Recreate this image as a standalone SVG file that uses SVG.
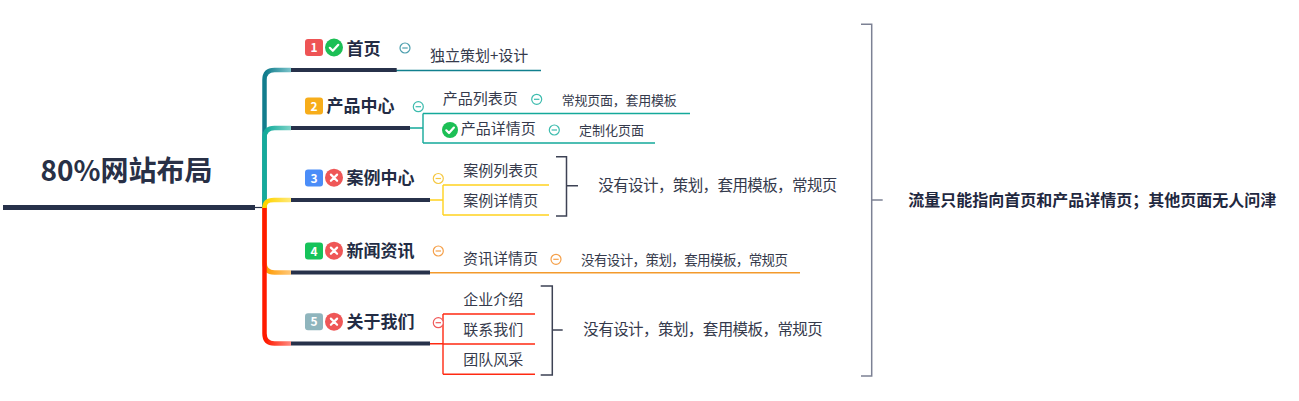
<svg xmlns="http://www.w3.org/2000/svg" width="1299" height="401" viewBox="0 0 1299 401">
<style>
text{font-family:"Noto Sans CJK SC","Noto Sans",sans-serif;}
.root{font-size:28px;font-weight:bold;fill:#283046;}
.main{font-size:17px;font-weight:bold;fill:#232c44;}
.sub{font-size:15px;fill:#353a4c;}
.leaf{font-size:13px;fill:#353a4c;}
.sum{font-size:15.5px;fill:#353a4c;}
.big{font-size:16px;font-weight:bold;fill:#1f2840;}
.num{font-size:12px;font-weight:bold;fill:#ffffff;text-anchor:middle;}
.ul{stroke:#27314a;stroke-width:4;fill:none;}
.thin{stroke-width:1.4;fill:none;}
.spine{stroke-width:4.5;fill:none;}
.brk{stroke:#3d4254;stroke-width:1.5;fill:none;}
.bigbrk{stroke:#7c8194;stroke-width:1.5;fill:none;}
.col{fill:#ffffff;stroke-width:1.2;}
.icw{stroke:#ffffff;stroke-width:2.2;fill:none;stroke-linecap:round;stroke-linejoin:round;}
</style>
<defs>
<linearGradient id="g1" gradientUnits="userSpaceOnUse" x1="266" y1="0" x2="291" y2="0"><stop offset="0" stop-color="#127d8d"/><stop offset="1" stop-color="#7cc4cb"/></linearGradient>
<linearGradient id="g2" gradientUnits="userSpaceOnUse" x1="266" y1="0" x2="291" y2="0"><stop offset="0" stop-color="#14ab9b"/><stop offset="1" stop-color="#7dd3c8"/></linearGradient>
<linearGradient id="g3" gradientUnits="userSpaceOnUse" x1="266" y1="0" x2="291" y2="0"><stop offset="0" stop-color="#ffd400"/><stop offset="1" stop-color="#ffe97a"/></linearGradient>
<linearGradient id="g4" gradientUnits="userSpaceOnUse" x1="266" y1="0" x2="291" y2="0"><stop offset="0" stop-color="#ff9a00"/><stop offset="1" stop-color="#ffc87a"/></linearGradient>
<linearGradient id="g5" gradientUnits="userSpaceOnUse" x1="266" y1="0" x2="291" y2="0"><stop offset="0" stop-color="#ff1a00"/><stop offset="1" stop-color="#ff8a80"/></linearGradient>
</defs>
<rect width="1299" height="401" fill="#ffffff"/>

<g id="connectors">
<line x1="255" y1="207.5" x2="264" y2="207.5" stroke="#27314a" stroke-width="1.2"/>
<path class="spine" stroke="url(#g1)" d="M264.5,207 V80 Q264.5,70 274.5,70 H291"/>
<path class="spine" stroke="url(#g2)" d="M264.5,207 V138 Q264.5,128 274.5,128 H291"/>
<path class="spine" stroke="url(#g4)" d="M264.5,207 V262.5 Q264.5,272.5 274.5,272.5 H291"/>
<path class="spine" stroke="url(#g5)" d="M264.5,207 V333.5 Q264.5,343.5 274.5,343.5 H291"/>
<path class="spine" stroke="url(#g3)" d="M264.5,208 C264.5,202 267,200 274,200 H291"/>
<line class="thin" stroke="#11808e" x1="396" y1="70.5" x2="541" y2="70.5"/>
<path class="thin" stroke="#14a99a" d="M410,128 H423 M423,113.5 V143 M423,113.5 H690 M423,143 H655"/>
<path class="thin" stroke="#ffd21f" d="M430,200 H443 M443,185 V215 M443,185 H549 M443,215 H549"/>
<line class="thin" stroke="#f39a2c" x1="430" y1="272.7" x2="800" y2="272.7"/>
<path class="thin" stroke="#ff2a12" d="M430,343.7 H443 M443,314 V374.3 M443,314 H535 M443,344 H535 M443,374.3 H535"/>
<path class="brk" d="M556,156.7 H566.5 V216 H556 M566.5,185.7 H578"/>
<path class="brk" d="M540.7,286 H552.3 V375 H540.7 M552.3,330 H562.7"/>
<path class="bigbrk" d="M861,24.3 H871.7 V376 H861 M871.7,200 H882.7"/>
</g>

<g id="root">
<text class="root" x="126.5" y="181" text-anchor="middle">80%网站布局</text>
<line x1="3" y1="207.5" x2="255" y2="207.5" stroke="#27314a" stroke-width="5"/>
</g>

<g id="node1">
<rect x="305" y="39" width="18" height="17" rx="3" fill="#ee5455"/>
<text class="num" x="314" y="52">1</text>
<circle cx="334" cy="47.5" r="9" fill="#1cbf55"/>
<path class="icw" d="M329.8,47.8 L332.8,50.8 L338.3,44.8"/>
<text class="main" x="346.5" y="54.5">首页</text>
<circle class="col" cx="405" cy="48" r="5" stroke="#4c9fae"/>
<line x1="402.3" y1="48" x2="407.7" y2="48" stroke="#4c9fae" stroke-width="1.2"/>
<line class="ul" x1="291" y1="70" x2="396.7" y2="70"/>
</g>
<g id="node1-1">
<text class="sub" x="430" y="60.5">独立策划+设计</text>
</g>

<g id="node2">
<rect x="305" y="97.5" width="18" height="17" rx="3" fill="#f7ad1a"/>
<text class="num" x="314" y="110.5">2</text>
<text class="main" x="326.5" y="112">产品中心</text>
<circle class="col" cx="418.3" cy="106.7" r="5" stroke="#3dbcae"/>
<line x1="415.6" y1="106.7" x2="421" y2="106.7" stroke="#3dbcae" stroke-width="1.2"/>
<line class="ul" x1="291" y1="128" x2="410" y2="128"/>
</g>
<g id="node2-1">
<text class="sub" x="442.7" y="104">产品列表页</text>
<circle class="col" cx="536.7" cy="99.3" r="5" stroke="#3dbcae"/>
<line x1="534" y1="99.3" x2="539.4" y2="99.3" stroke="#3dbcae" stroke-width="1.2"/>
</g>
<g id="node2-1-1">
<text class="leaf" x="561.7" y="105" textLength="115" lengthAdjust="spacing">常规页面，套用模板</text>
</g>
<g id="node2-2">
<circle cx="450" cy="130" r="8" fill="#1cbf55"/>
<path class="icw" d="M446.3,130.3 L449,133 L453.9,127.6"/>
<text class="sub" x="460.7" y="134">产品详情页</text>
<circle class="col" cx="554.3" cy="130" r="5" stroke="#3dbcae"/>
<line x1="551.6" y1="130" x2="557" y2="130" stroke="#3dbcae" stroke-width="1.2"/>
</g>
<g id="node2-2-1">
<text class="leaf" x="579" y="135">定制化页面</text>
</g>

<g id="node3">
<rect x="305" y="169.5" width="18" height="17" rx="3" fill="#4b8df8"/>
<text class="num" x="314" y="182.5">3</text>
<circle cx="334" cy="177.7" r="9" fill="#ef5757"/>
<path class="icw" d="M330.9,174.6 L337.1,180.8 M337.1,174.6 L330.9,180.8"/>
<text class="main" x="346.5" y="184">案例中心</text>
<circle class="col" cx="438.3" cy="178.5" r="5" stroke="#f5c842"/>
<line x1="435.6" y1="178.5" x2="441" y2="178.5" stroke="#f5c842" stroke-width="1.2"/>
<line class="ul" x1="291" y1="200" x2="430" y2="200"/>
</g>
<g id="node3-1"><text class="sub" x="463.3" y="175.5">案例列表页</text></g>
<g id="node3-2"><text class="sub" x="463.3" y="205.5">案例详情页</text></g>
<g id="summary3"><text class="sum" x="598.3" y="190.5" textLength="239" lengthAdjust="spacing">没有设计，策划，套用模板，常规页</text></g>

<g id="node4">
<rect x="305" y="242.5" width="18" height="17" rx="3" fill="#16c35a"/>
<text class="num" x="314" y="255.5">4</text>
<circle cx="334" cy="250.7" r="9" fill="#ef5757"/>
<path class="icw" d="M330.9,247.6 L337.1,253.8 M337.1,247.6 L330.9,253.8"/>
<text class="main" x="346.5" y="257">新闻资讯</text>
<circle class="col" cx="438.3" cy="251" r="5" stroke="#f5a04a"/>
<line x1="435.6" y1="251" x2="441" y2="251" stroke="#f5a04a" stroke-width="1.2"/>
<line class="ul" x1="291" y1="272.5" x2="430" y2="272.5"/>
</g>
<g id="node4-1">
<text class="sub" x="463" y="264">资讯详情页</text>
<circle class="col" cx="556" cy="259.3" r="5" stroke="#f5a04a"/>
<line x1="553.3" y1="259.3" x2="558.7" y2="259.3" stroke="#f5a04a" stroke-width="1.2"/>
</g>
<g id="node4-1-1"><text class="leaf" x="581" y="265" style="font-size:13.5px" textLength="207" lengthAdjust="spacing">没有设计，策划，套用模板，常规页</text></g>

<g id="node5">
<rect x="305" y="313.3" width="18" height="17" rx="3" fill="#8fb5bd"/>
<text class="num" x="314" y="326.3">5</text>
<circle cx="334" cy="321.7" r="9" fill="#ef5757"/>
<path class="icw" d="M330.9,318.6 L337.1,324.8 M337.1,318.6 L330.9,324.8"/>
<text class="main" x="346.5" y="328">关于我们</text>
<circle class="col" cx="438.3" cy="322.7" r="5" stroke="#f05a5a"/>
<line x1="435.6" y1="322.7" x2="441" y2="322.7" stroke="#f05a5a" stroke-width="1.2"/>
<line class="ul" x1="291" y1="343.5" x2="430" y2="343.5"/>
</g>
<g id="node5-1"><text class="sub" x="463.3" y="305">企业介绍</text></g>
<g id="node5-2"><text class="sub" x="463.3" y="334.5">联系我们</text></g>
<g id="node5-3"><text class="sub" x="463.3" y="364.5">团队风采</text></g>
<g id="summary5"><text class="sum" x="583.3" y="334.5" textLength="239.5" lengthAdjust="spacing">没有设计，策划，套用模板，常规页</text></g>

<g id="summary-all"><text class="big" x="908.3" y="205.5">流量只能指向首页和产品详情页；其他页面无人问津</text></g>
</svg>
